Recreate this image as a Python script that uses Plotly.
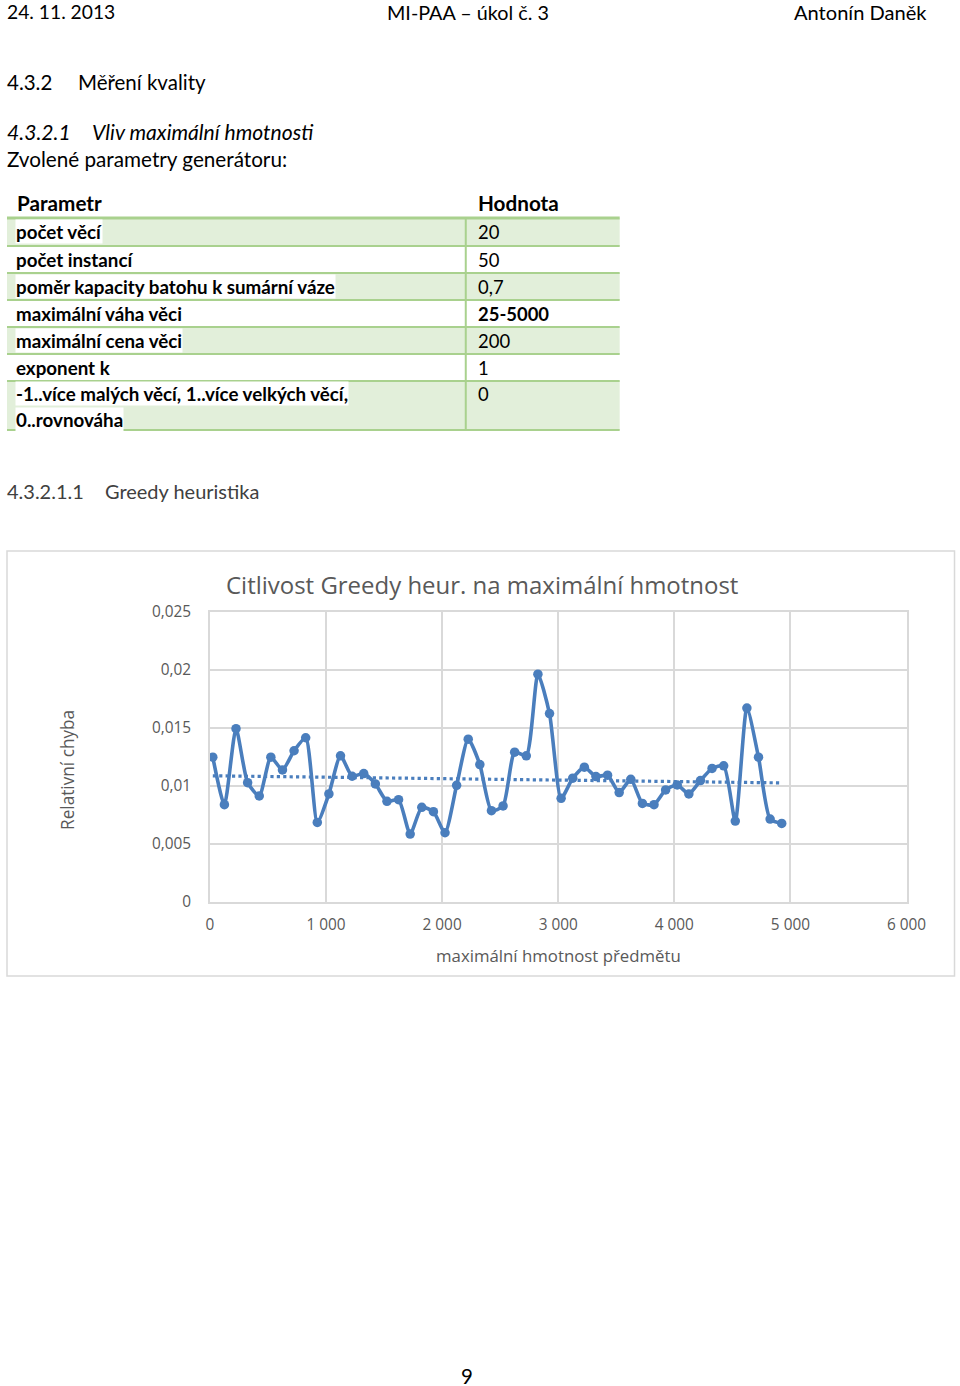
import numpy as np
import plotly.graph_objects as go

# ---------------- data ----------------
max_weight = [25 + 100 * i for i in range(50)]
rel_error = [
    0.01248, 0.00839, 0.01494, 0.01029, 0.00914, 0.01248, 0.01139, 0.01304, 0.01416, 0.00686,
    0.00932, 0.01260, 0.01084, 0.01107, 0.01018, 0.00868, 0.00882, 0.00586, 0.00816, 0.00779,
    0.00597, 0.01006, 0.01404, 0.01185, 0.00787, 0.00828, 0.01292, 0.01260, 0.01964, 0.01624,
    0.00894, 0.01067, 0.01162, 0.01081, 0.01093, 0.00943, 0.01058, 0.00850, 0.00839, 0.00966,
    0.01009, 0.00932, 0.01047, 0.01151, 0.01174, 0.00698, 0.01672, 0.01248, 0.00715, 0.00677,
]
x_ticks = [0, 1000, 2000, 3000, 4000, 5000, 6000]
x_tick_labels = ["0", "1 000", "2 000", "3 000", "4 000", "5 000", "6 000"]
y_ticks = [0, 0.005, 0.01, 0.015, 0.02, 0.025]
y_tick_labels = ["0", "0,005", "0,01", "0,015", "0,02", "0,025"]

table_params = [
    "počet věcí",
    "počet instancí",
    "poměr kapacity batohu k sumární váze",
    "maximální váha věci",
    "maximální cena věci",
    "exponent k",
    ["-1..více malých věcí, 1..více velkých věcí,", "0..rovnováha"],
]
table_values = ["20", "50", "0,7", "<b>25-5000</b>", "200", "1", "0"]

# ---------------- layout helpers ----------------
FW, FH = 980, 1400
SX, OX = 0.976, 4.0
SY, OY = 0.985, 11.0
def px(x):
    return ((x - OX) / SX) / FW
def py(y):
    return 1 - ((y - OY) / SY) / FH
def fs(s):
    return s / SX

BODY = "Lato, 'Noto Sans', sans-serif"
CHART = "'Open Sans', 'Noto Sans', sans-serif"
BLUE = "#4a7ebd"
GREY = "#595959"

fig = go.Figure()

fig.add_trace(go.Scatter(
    x=max_weight, y=rel_error, mode="lines+markers",
    line=dict(color=BLUE, width=3.6, shape="spline", smoothing=0.6),
    marker=dict(color=BLUE, size=9.5),
    showlegend=False, hoverinfo="x+y",
))

coef = np.polyfit(max_weight, rel_error, 1)
trend_x = [max_weight[0], max_weight[-1]]
trend_y = [coef[0] * v + coef[1] for v in trend_x]
fig.add_trace(go.Scatter(
    x=trend_x, y=trend_y, mode="lines",
    line=dict(color=BLUE, width=3.2, dash="dot"),
    showlegend=False, hoverinfo="skip",
))

shapes = []
annotations = []

def text(x, y, s, size=20, color="#000000", xanchor="left", font=BODY, **kw):
    annotations.append(dict(
        x=px(x), y=py(y), xref="paper", yref="paper", text=s, showarrow=False,
        xanchor=xanchor, yanchor="middle", align="left",
        font=dict(size=fs(size), color=color, family=font), **kw))

# header
text(5, 12, "24. 11. 2013", size=18.8)
text(468, 12, "MI-PAA – úkol č. 3", size=19.3, xanchor="center")
text(929, 12, "Antonín Daněk", size=19.6, xanchor="right")

# headings
text(5, 82, "4.3.2", size=20)
text(76, 82, "Měření kvality", size=20)
text(5, 131, "<i>4.3.2.1</i>", size=20.6)
text(90, 131, "<i>Vliv maximální hmotnosti</i>", size=20.6)
text(5, 159, "Zvolené parametry generátoru:", size=20.2)

# table
LINE_GREEN = "#a9d18e"
FILL_GREEN = "#e2efda"
row_bounds = [218, 246, 273, 300, 327, 354, 381, 430]
for i in range(len(table_params)):
    y0, y1 = row_bounds[i], row_bounds[i + 1]
    if i % 2 == 0:
        shapes.append(dict(type="rect", xref="paper", yref="paper",
                           x0=px(7), x1=px(620), y0=py(y1), y1=py(y0),
                           fillcolor=FILL_GREEN, line=dict(width=0), layer="below"))
for j, yb in enumerate(row_bounds):
    shapes.append(dict(type="line", xref="paper", yref="paper",
                       x0=px(7), x1=px(620), y0=py(yb), y1=py(yb),
                       line=dict(color=LINE_GREEN, width=3 if j == 0 else 2)))
shapes.append(dict(type="line", xref="paper", yref="paper",
                   x0=px(466), x1=px(466), y0=py(218), y1=py(430),
                   line=dict(color=LINE_GREEN, width=2)))

text(15, 203, "<b>Parametr</b>", size=20.2)
text(476, 203, "<b>Hodnota</b>", size=20.2)
for i, (p, v) in enumerate(zip(table_params, table_values)):
    if isinstance(p, list):
        for k, line in enumerate(p):
            text(15, 394 + 25 * k, "<b>" + line + "</b>", size=18.3, bgcolor="#ffffff", borderpad=0)
        text(476, 394, v, size=18)
    else:
        yc = (row_bounds[i] + row_bounds[i + 1]) / 2
        text(15, yc, "<b>" + p + "</b>", size=18.3, bgcolor="#ffffff", borderpad=0)
        text(476, yc, v, size=18)

# sub heading
text(5, 491, "4.3.2.1.1", size=19.5, color="#404040")
text(103, 491, "Greedy heuristika", size=19.5, color="#404040")

# chart box
shapes.append(dict(type="rect", xref="paper", yref="paper",
                   x0=px(7), x1=px(955), y0=py(976), y1=py(551),
                   line=dict(color="#d9d9d9", width=1.5), fillcolor="rgba(0,0,0,0)"))

text(482, 584, "Citlivost Greedy heur. na maximální hmotnost", size=23.4, color=GREY,
     xanchor="center", font=CHART)
text(559, 955, "maximální hmotnost předmětu", size=16.4, color=GREY,
     xanchor="center", font=CHART)
annotations.append(dict(x=px(67), y=py(770), xref="paper", yref="paper",
                        text="Relativní chyba", showarrow=False, textangle=-90,
                        xanchor="center", yanchor="middle",
                        font=dict(size=fs(16.8), color=GREY, family=CHART)))

# page number
text(467, 1376, "9", size=20, xanchor="center")

fig.update_layout(
    width=FW, height=FH,
    margin=dict(l=0, r=0, t=0, b=0),
    paper_bgcolor="#ffffff", plot_bgcolor="#ffffff",
    shapes=shapes, annotations=annotations,
    xaxis=dict(domain=[px(210), px(907)], range=[0, 6000],
               tickvals=x_ticks, ticktext=x_tick_labels,
               showgrid=True, gridcolor="#d9d9d9", gridwidth=1.5,
               showline=True, linecolor="#d9d9d9", linewidth=1.5, mirror=True,
               zeroline=False, ticks="", ticklabelstandoff=8,
               tickfont=dict(size=fs(15), color=GREY, family=CHART)),
    yaxis=dict(domain=[py(902), py(612)], range=[0, 0.025],
               tickvals=y_ticks, ticktext=y_tick_labels,
               showgrid=True, gridcolor="#d9d9d9", gridwidth=1.5,
               showline=True, linecolor="#d9d9d9", linewidth=1.5, mirror=True,
               zeroline=False, ticks="", ticklabelstandoff=14,
               tickfont=dict(size=fs(15), color=GREY, family=CHART)),
)

fig.write_html("out.html")
